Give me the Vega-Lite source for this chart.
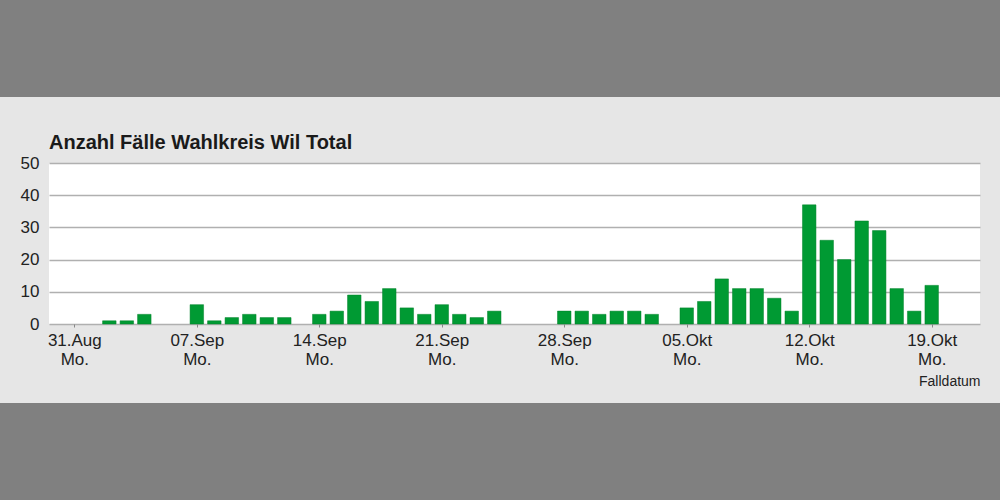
{
  "$schema": "https://vega.github.io/schema/vega-lite/v6.json",
  "background": "#e6e6e6",
  "padding": 0,
  "spacing": 0,
  "config": {
    "view": {"stroke": null},
    "font": "Liberation Sans"
  },
  "vconcat": [
    {
      "width": 1000,
      "height": 97,
      "view": {"fill": "#808080", "stroke": null},
      "data": {"values": [{}]},
      "mark": {"type": "rect", "color": "#808080"},
      "encoding": {}
    },
    {
      "width": 1000,
      "height": 36,
      "data": {"values": [{}]},
      "mark": {"type": "rect", "opacity": 0},
      "encoding": {}
    },
    {
      "spacing": 0,
      "hconcat": [
        {
          "width": 20,
          "height": 1,
          "data": {"values": [{}]},
          "mark": {"type": "rect", "opacity": 0},
          "encoding": {}
        },
        {
          "width": 931,
          "height": 161,
          "view": {"fill": "white", "stroke": null},
          "title": {
            "text": "Anzahl Fälle Wahlkreis Wil Total",
            "anchor": "start",
            "frame": "group",
            "fontSize": 20,
            "fontWeight": "bold",
            "color": "#1a1a1a",
            "offset": 1
          },
          "data": {
            "values": [
              {"datum": "2020-09-02", "faelle": 1},
              {"datum": "2020-09-03", "faelle": 1},
              {"datum": "2020-09-04", "faelle": 3},
              {"datum": "2020-09-07", "faelle": 6},
              {"datum": "2020-09-08", "faelle": 1},
              {"datum": "2020-09-09", "faelle": 2},
              {"datum": "2020-09-10", "faelle": 3},
              {"datum": "2020-09-11", "faelle": 2},
              {"datum": "2020-09-12", "faelle": 2},
              {"datum": "2020-09-14", "faelle": 3},
              {"datum": "2020-09-15", "faelle": 4},
              {"datum": "2020-09-16", "faelle": 9},
              {"datum": "2020-09-17", "faelle": 7},
              {"datum": "2020-09-18", "faelle": 11},
              {"datum": "2020-09-19", "faelle": 5},
              {"datum": "2020-09-20", "faelle": 3},
              {"datum": "2020-09-21", "faelle": 6},
              {"datum": "2020-09-22", "faelle": 3},
              {"datum": "2020-09-23", "faelle": 2},
              {"datum": "2020-09-24", "faelle": 4},
              {"datum": "2020-09-28", "faelle": 4},
              {"datum": "2020-09-29", "faelle": 4},
              {"datum": "2020-09-30", "faelle": 3},
              {"datum": "2020-10-01", "faelle": 4},
              {"datum": "2020-10-02", "faelle": 4},
              {"datum": "2020-10-03", "faelle": 3},
              {"datum": "2020-10-05", "faelle": 5},
              {"datum": "2020-10-06", "faelle": 7},
              {"datum": "2020-10-07", "faelle": 14},
              {"datum": "2020-10-08", "faelle": 11},
              {"datum": "2020-10-09", "faelle": 11},
              {"datum": "2020-10-10", "faelle": 8},
              {"datum": "2020-10-11", "faelle": 4},
              {"datum": "2020-10-12", "faelle": 37},
              {"datum": "2020-10-13", "faelle": 26},
              {"datum": "2020-10-14", "faelle": 20},
              {"datum": "2020-10-15", "faelle": 32},
              {"datum": "2020-10-16", "faelle": 29},
              {"datum": "2020-10-17", "faelle": 11},
              {"datum": "2020-10-18", "faelle": 4},
              {"datum": "2020-10-19", "faelle": 12}
            ]
          },
          "mark": {"type": "bar", "width": 13.5, "color": "#009a33", "stroke": "#00822b", "strokeWidth": 0.5},
          "encoding": {
            "x": {
              "field": "datum",
              "type": "temporal",
              "scale": {
                "type": "utc",
                "padding": 0,
                "domain": [
                  {"year": 2020, "month": 8, "date": 29, "hours": 13, "minutes": 15, "utc": true},
                  {"year": 2020, "month": 10, "date": 21, "hours": 18, "minutes": 15, "utc": true}
                ]
              },
              "axis": {
                "values": [
                  {"year": 2020, "month": 8, "date": 31, "utc": true},
                  {"year": 2020, "month": 9, "date": 7, "utc": true},
                  {"year": 2020, "month": 9, "date": 14, "utc": true},
                  {"year": 2020, "month": 9, "date": 21, "utc": true},
                  {"year": 2020, "month": 9, "date": 28, "utc": true},
                  {"year": 2020, "month": 10, "date": 5, "utc": true},
                  {"year": 2020, "month": 10, "date": 12, "utc": true},
                  {"year": 2020, "month": 10, "date": 19, "utc": true}
                ],
                "labelExpr": "[utcFormat(datum.value, '%d') + '.' + (utcmonth(datum.value) == 9 ? 'Okt' : utcFormat(datum.value, '%b')), 'Mo.']",
                "labelFontSize": 17,
                "labelColor": "#222222",
                "labelLineHeight": 19,
                "labelPadding": 5,
                "labelFlush": false,
                "labelOverlap": false,
                "tickSize": 3,
                "tickColor": "#888888",
                "domain": false,
                "grid": false,
                "title": "Falldatum",
                "titleAnchor": "end",
                "titleFontSize": 14,
                "titleFontWeight": "normal",
                "titleColor": "#222222",
                "titlePadding": 7
              }
            },
            "y": {
              "field": "faelle",
              "type": "quantitative",
              "scale": {"domain": [0, 50], "nice": false},
              "axis": {
                "values": [0, 10, 20, 30, 40, 50],
                "title": null,
                "ticks": false,
                "domain": false,
                "labelFontSize": 17,
                "labelColor": "#222222",
                "labelPadding": 10,
                "gridColor": "#b0b0b0",
                "gridWidth": 1.5
              }
            }
          }
        }
      ]
    },
    {
      "width": 1000,
      "height": 15,
      "data": {"values": [{}]},
      "mark": {"type": "rect", "opacity": 0},
      "encoding": {}
    },
    {
      "width": 1000,
      "height": 97,
      "view": {"fill": "#808080", "stroke": null},
      "data": {"values": [{}]},
      "mark": {"type": "rect", "color": "#808080"},
      "encoding": {}
    }
  ]
}
